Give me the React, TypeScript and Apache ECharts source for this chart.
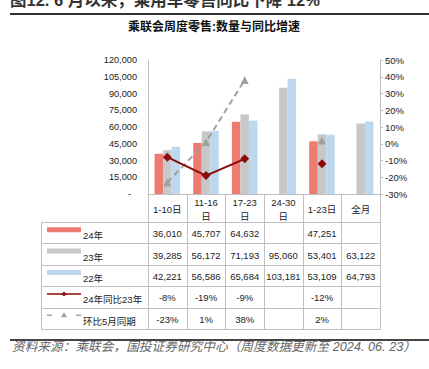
import React, { useEffect, useRef } from "react";
import * as echarts from "echarts";

const categories = ["1-10日", "11-16\n日", "17-23\n日", "24-30\n日", "1-23日", "全月"];
const sales24 = [36010, 45707, 64632, null, 47251, null];
const sales23 = [39285, 56172, 71193, 95060, 53401, 63122];
const sales22 = [42221, 56586, 65684, 103181, 53109, 64793];
const yoy24vs23 = [-8, -19, -9, null, -12, null];
const vsMay = [-23, 1, 38, null, 2, null];
const seriesNames = ["24年", "23年", "22年", "24年同比23年", "环比5月同期"];

const mainTitle = "图12. 6 月以来，乘用车零售同比下降 12%";
const chartTitle = "乘联会周度零售:数量与同比增速";
const sourceText = "资料来源：乘联会，国投证券研究中心（周度数据更新至 2024. 06. 23）";

const W = 429;
const H = 369;
const GL = 148;
const GR = 380;
const GT = 60;
const GB = 194;
const TL = 41;
const headerBottom = 222;
const rowH = 21.4;
const FONT = "'Liberation Sans', Arial, 'Noto Sans CJK SC', sans-serif";
const GRID_COLOR = "#BFBFBF";
const RED = "#EE7B72";
const GRAY = "#C8C8C8";
const BLUE = "#BDD7EE";
const DARKRED = "#8B0A0A";
const DASHGRAY = "#A0A0A0";

function fmtNum(v: number | null) {
  return v == null ? "" : v.toLocaleString("en-US");
}
function fmtPct(v: number | null) {
  return v == null ? "" : `${v}%`;
}

function buildGraphics() {
  const g: any[] = [];
  const colW = (GR - GL) / categories.length;
  // titles
  g.push({
    type: "text",
    left: 10,
    top: -8,
    style: { text: mainTitle, font: `bold 16.5px ${FONT}`, fill: "#333" },
  });
  g.push({
    type: "rect",
    shape: { x: 10, y: 13, width: W - 10, height: 2 },
    style: { fill: "#333" },
  });
  g.push({
    type: "text",
    x: 214,
    y: 27,
    style: {
      text: chartTitle,
      font: `bold 12px ${FONT}`,
      fill: "#111",
      align: "center",
      verticalAlign: "middle",
    },
  });
  // table lines
  const line = (x1: number, y1: number, x2: number, y2: number) =>
    g.push({
      type: "line",
      shape: { x1, y1, x2, y2 },
      style: { stroke: GRID_COLOR, lineWidth: 1 },
      z: 10,
    });
  const bottom = headerBottom + rowH * 5;
  for (let i = 0; i <= 5; i++) {
    const y = Math.round(headerBottom + rowH * i) + 0.5;
    line(TL, y, GR, y);
  }
  line(TL + 0.5, headerBottom, TL + 0.5, bottom);
  for (let i = 0; i <= categories.length; i++) {
    const x = Math.round(GL + colW * i) + 0.5;
    line(x, GB, x, Math.round(bottom) + 0.5);
  }
  // header labels
  categories.forEach((c, i) => {
    g.push({
      type: "text",
      x: GL + colW * (i + 0.5),
      y: (GB + headerBottom) / 2 + 1,
      style: {
        text: c,
        font: `9.5px ${FONT}`,
        fill: "#222",
        align: "center",
        verticalAlign: "middle",
        lineHeight: 14,
      },
    });
  });
  const rows: string[][] = [
    sales24.map(fmtNum),
    sales23.map(fmtNum),
    sales22.map(fmtNum),
    yoy24vs23.map(fmtPct),
    vsMay.map(fmtPct),
  ];
  rows.forEach((r, ri) => {
    const cy = headerBottom + rowH * (ri + 0.5) + 1;
    r.forEach((t, ci) => {
      g.push({
        type: "text",
        x: GL + colW * (ci + 0.5),
        y: cy,
        style: {
          text: t,
          font: `9.5px ${FONT}`,
          fill: "#222",
          align: "center",
          verticalAlign: "middle",
        },
      });
    });
    g.push({
      type: "text",
      x: 83,
      y: cy + 2,
      style: {
        text: seriesNames[ri],
        font: `9.5px ${FONT}`,
        fill: "#222",
        align: "left",
        verticalAlign: "middle",
      },
    });
    const sy = cy - 4;
    if (ri < 3) {
      g.push({
        type: "rect",
        shape: { x: 47, y: sy - 2.5, width: 34, height: 5 },
        style: { fill: [RED, GRAY, BLUE][ri] },
      });
    } else if (ri === 3) {
      g.push({
        type: "line",
        shape: { x1: 47, y1: sy, x2: 81, y2: sy },
        style: { stroke: DARKRED, lineWidth: 1.5 },
      });
      g.push({
        type: "polygon",
        shape: { points: [[64, sy - 2.5], [66.5, sy], [64, sy + 2.5], [61.5, sy]] },
        style: { fill: DARKRED },
      });
    } else {
      g.push({
        type: "line",
        shape: { x1: 47, y1: sy, x2: 52, y2: sy },
        style: { stroke: DASHGRAY, lineWidth: 1.5 },
      });
      g.push({
        type: "line",
        shape: { x1: 76, y1: sy, x2: 81, y2: sy },
        style: { stroke: DASHGRAY, lineWidth: 1.5 },
      });
      g.push({
        type: "polygon",
        shape: { points: [[64, sy - 3], [67, sy + 2], [61, sy + 2]] },
        style: { fill: DASHGRAY },
      });
    }
  });
  // footer
  g.push({
    type: "rect",
    shape: { x: 10, y: 339, width: W - 10, height: 2 },
    style: { fill: "#444" },
  });
  g.push({
    type: "text",
    x: 12,
    y: 347,
    style: {
      text: sourceText,
      font: `italic 12.7px ${FONT}`,
      fill: "#666",
      align: "left",
      verticalAlign: "middle",
    },
  });
  return g;
}

export default function App() {
  const ref = useRef<HTMLDivElement>(null);
  useEffect(() => {
    if (!ref.current) return;
    const chart = echarts.init(ref.current, null, { renderer: "svg" });
    chart.setOption({
      animation: false,
      backgroundColor: "#fff",
      textStyle: { fontFamily: FONT },
      grid: { left: GL, right: W - GR, top: GT, bottom: H - GB },
      xAxis: {
        type: "category",
        data: categories,
        axisLine: { lineStyle: { color: GRID_COLOR } },
        axisTick: { show: false },
        axisLabel: { show: false },
      },
      yAxis: [
        {
          type: "value",
          min: 0,
          max: 120000,
          interval: 15000,
          axisLine: { show: true, lineStyle: { color: GRID_COLOR } },
          axisTick: { show: false },
          splitLine: { show: false },
          axisLabel: {
            color: "#222",
            fontSize: 9.2,
            margin: 11,
            formatter: (v: number) => (v === 0 ? "{d|-}" : v.toLocaleString("en-US")),
            rich: { d: { padding: [0, 6, 0, 0], fontSize: 9.2, color: "#222" } },
          },
        },
        {
          type: "value",
          position: "right",
          min: -30,
          max: 50,
          interval: 10,
          axisLine: { show: true, lineStyle: { color: GRID_COLOR } },
          axisTick: { show: true, length: 3, lineStyle: { color: GRID_COLOR } },
          splitLine: { show: false },
          axisLabel: { color: "#222", fontSize: 9.5, margin: 5, formatter: "{value}%" },
        },
      ],
      series: [
        {
          name: seriesNames[0],
          type: "bar",
          data: sales24,
          barGap: "0%",
          barCategoryGap: "34%",
          itemStyle: { color: RED },
        },
        {
          name: seriesNames[1],
          type: "bar",
          data: sales23,
          barGap: "0%",
          barCategoryGap: "34%",
          itemStyle: { color: GRAY },
        },
        {
          name: seriesNames[2],
          type: "bar",
          data: sales22,
          barGap: "0%",
          barCategoryGap: "34%",
          itemStyle: { color: BLUE },
        },
        {
          name: seriesNames[3],
          type: "line",
          yAxisIndex: 1,
          data: yoy24vs23,
          connectNulls: false,
          symbol: "diamond",
          symbolSize: 9,
          itemStyle: { color: DARKRED },
          lineStyle: { color: DARKRED, width: 2 },
          z: 5,
        },
        {
          name: seriesNames[4],
          type: "line",
          yAxisIndex: 1,
          data: vsMay,
          connectNulls: false,
          symbol: "triangle",
          symbolSize: 8,
          itemStyle: { color: DASHGRAY },
          lineStyle: { color: DASHGRAY, width: 2, type: [6, 4] },
          z: 4,
        },
      ],
      graphic: buildGraphics(),
    });
    return () => chart.dispose();
  }, []);
  return (
    <div
      ref={ref}
      style={{ position: "fixed", left: 0, top: 0, width: W, height: H, background: "#fff" }}
    />
  );
}
